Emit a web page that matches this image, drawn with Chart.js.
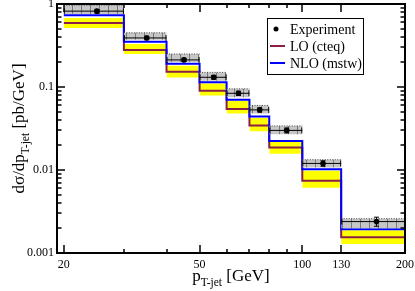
<!DOCTYPE html>
<html>
<head>
<meta charset="utf-8">
<script src="https://cdn.jsdelivr.net/npm/chart.js@4/dist/chart.umd.min.js"></script>
<style>
  html, body { margin:0; padding:0; background:#fff; }
  #wrap { width:415px; height:291px; }
</style>
</head>
<body>
<div id="wrap"><canvas id="c" width="415" height="291"></canvas></div>
<script>
// bin edges in p_T-jet [GeV]
const binEdges = [20, 30, 40, 50, 60, 70, 80, 100, 130, 200];
// experiment, central values + stat / syst bands [pb/GeV]
const expVal  = [0.82, 0.39, 0.212, 0.131, 0.084, 0.053, 0.030, 0.0120, 0.00239];
const statHi  = [0.86, 0.41, 0.222, 0.138, 0.089, 0.056, 0.032, 0.0129, 0.0027];
const statLo  = [0.78, 0.37, 0.202, 0.124, 0.079, 0.050, 0.028, 0.0111, 0.0021];
const sysHi   = [0.97, 0.45, 0.25, 0.150, 0.095, 0.060, 0.034, 0.0133, 0.00259];
const sysLo   = [0.76, 0.37, 0.20, 0.119, 0.075, 0.048, 0.027, 0.0107, 0.00199];
// theory
const nloVal  = [0.73, 0.35, 0.19, 0.114, 0.070, 0.044, 0.0223, 0.0102, 0.00193];
const loVal   = [0.59, 0.28, 0.153, 0.090, 0.0545, 0.0343, 0.0187, 0.0074, 0.00155];
const loHi    = [0.68, 0.33, 0.18, 0.110, 0.068, 0.0424, 0.0217, 0.0098, 0.00188];
const loLo    = [0.515, 0.25, 0.13, 0.079, 0.048, 0.0293, 0.0157, 0.0061, 0.00128];
// axis ticks
const xMajor = [20, 50, 100, 130, 200];
const xMinor = [30, 40, 60, 70, 80, 90];
const yMajor = [0.001, 0.01, 0.1, 1];
const yMinorMult = [2, 3, 4, 5, 6, 7, 8, 9];
const legendLabels = ['Experiment', 'LO (cteq)', 'NLO (mstw)'];

const FONT = '"Liberation Serif", "DejaVu Serif", serif';
Chart.defaults.font.family = FONT;
Chart.defaults.color = '#000';

// hatch pattern for the systematic boxes
function hatch() {
  const pc = document.createElement('canvas');
  pc.width = 9; pc.height = 9;
  const g = pc.getContext('2d');
  g.fillStyle = '#c6c6c6'; g.fillRect(0, 0, 9, 9);
  g.fillStyle = '#7a7a7a'; g.fillRect(0, 0, 1, 9);
  return g.createPattern(pc, 'repeat');
}
const greyPat = hatch();

const stepPts = vals => binEdges.map((e, i) => ({x: e, y: vals[Math.min(i, vals.length - 1)]}));

const datasets = [];
datasets.push({
  type: 'scatter', label: 'Experiment', order: 0,
  data: expVal.map((v, i) => ({x: (binEdges[i] + binEdges[i+1]) / 2, y: v})),
  pointRadius: 2.8, pointBackgroundColor: '#000', pointBorderColor: '#000', pointBorderWidth: 0
});
expVal.forEach((v, i) => {
  datasets.push({
    type: 'line', order: 1,
    data: [{x: binEdges[i], y: sysHi[i]}, {x: binEdges[i+1], y: sysHi[i]}],
    fill: {value: sysLo[i]}, backgroundColor: greyPat,
    borderColor: '#444', borderWidth: 1, borderDash: [1, 1.5], pointRadius: 0
  });
});
datasets.push({
  type: 'line', label: 'NLO (mstw)', order: 2, data: stepPts(nloVal), stepped: 'before',
  borderColor: '#0000ff', borderWidth: 2, pointRadius: 0, fill: false
});
datasets.push({
  type: 'line', label: 'LO (cteq)', order: 3, data: stepPts(loVal), stepped: 'before',
  borderColor: '#8b1f48', borderWidth: 2, pointRadius: 0, fill: false
});
loVal.forEach((v, i) => {
  datasets.push({
    type: 'line', order: 4,
    data: [{x: binEdges[i], y: loHi[i]}, {x: binEdges[i+1], y: loHi[i]}],
    fill: {value: loLo[i]}, backgroundColor: '#ffff00', borderWidth: 0, pointRadius: 0
  });
});

const decor = {
  id: 'decor',
  afterDatasetsDraw(chart) {
    const ctx = chart.ctx, xs = chart.scales.x, ys = chart.scales.y;
    ctx.save();
    // error bars of the data points
    ctx.strokeStyle = '#000'; ctx.lineWidth = 1;
    expVal.forEach((v, i) => {
      const x0 = xs.getPixelForValue(binEdges[i]), x1 = xs.getPixelForValue(binEdges[i+1]);
      const xc = xs.getPixelForValue((binEdges[i] + binEdges[i+1]) / 2);
      const y = ys.getPixelForValue(v);
      const yh = ys.getPixelForValue(statHi[i]), yl = ys.getPixelForValue(statLo[i]);
      ctx.beginPath();
      ctx.moveTo(x0, y); ctx.lineTo(x1, y);
      ctx.moveTo(x0 + 0.5, y - 3); ctx.lineTo(x0 + 0.5, y + 3);
      ctx.moveTo(x1 - 0.5, y - 3); ctx.lineTo(x1 - 0.5, y + 3);
      ctx.moveTo(xc, yh); ctx.lineTo(xc, yl);
      ctx.moveTo(xc - 2.5, yh); ctx.lineTo(xc + 2.5, yh);
      ctx.moveTo(xc - 2.5, yl); ctx.lineTo(xc + 2.5, yl);
      ctx.stroke();
    });
    ctx.restore();
  },
  afterDraw(chart) {
    const ctx = chart.ctx, a = chart.chartArea, xs = chart.scales.x, ys = chart.scales.y;
    ctx.save();
    // inward ticks on all four sides
    ctx.strokeStyle = '#000'; ctx.lineWidth = 1.5;
    ctx.beginPath();
    const xt = (v, len) => {
      const p = Math.round(xs.getPixelForValue(v));
      ctx.moveTo(p, a.bottom); ctx.lineTo(p, a.bottom - len);
      ctx.moveTo(p, a.top); ctx.lineTo(p, a.top + len);
    };
    const yt = (v, len) => {
      const p = Math.round(ys.getPixelForValue(v));
      ctx.moveTo(a.left, p); ctx.lineTo(a.left + len, p);
      ctx.moveTo(a.right, p); ctx.lineTo(a.right - len, p);
    };
    xMajor.forEach(v => xt(v, 8));
    xMinor.forEach(v => xt(v, 4));
    yMajor.forEach(v => yt(v, 8));
    yMajor.slice(0, -1).forEach(d => yMinorMult.forEach(m => yt(d * m, 4.5)));
    ctx.stroke();
    // frame
    ctx.lineWidth = 2;
    ctx.strokeRect(a.left, a.top, a.right - a.left, a.bottom - a.top);

    // legend
    const lx = 267, ly = 18, lw = 96, lh = 56;
    ctx.fillStyle = '#fff'; ctx.fillRect(lx, ly, lw, lh);
    ctx.lineWidth = 1; ctx.strokeStyle = '#000';
    ctx.strokeRect(lx + 0.5, ly + 0.5, lw, lh);
    ctx.font = '14px ' + FONT; ctx.textBaseline = 'middle'; ctx.textAlign = 'left';
    const rows = [29, 46, 63];
    ctx.fillStyle = '#000';
    ctx.beginPath(); ctx.arc(276, rows[0], 2.5, 0, Math.PI * 2); ctx.fill();
    ctx.lineWidth = 2;
    ctx.strokeStyle = '#8b1f48'; ctx.beginPath(); ctx.moveTo(270, rows[1]); ctx.lineTo(285, rows[1]); ctx.stroke();
    ctx.strokeStyle = '#0000ff'; ctx.beginPath(); ctx.moveTo(270, rows[2]); ctx.lineTo(285, rows[2]); ctx.stroke();
    legendLabels.forEach((t, i) => ctx.fillText(t, 290, rows[i] + 1));

    // axis titles with subscripts
    const title = (parts) => {
      let w = 0;
      parts.forEach(p => { ctx.font = p[1] + 'px ' + FONT; w += ctx.measureText(p[0]).width; });
      let x = -w / 2;
      parts.forEach(p => { ctx.font = p[1] + 'px ' + FONT; ctx.fillText(p[0], x, p[2]); x += ctx.measureText(p[0]).width; });
    };
    ctx.fillStyle = '#000'; ctx.textBaseline = 'alphabetic'; ctx.textAlign = 'left';
    ctx.save();
    ctx.translate((a.left + a.right) / 2, 281);
    title([['p', 17, 0], ['T-jet', 11.5, 5], [' [GeV]', 17, 0]]);
    ctx.restore();
    ctx.save();
    ctx.translate(24, (a.top + a.bottom) / 2);
    ctx.rotate(-Math.PI / 2);
    title([['d\u03c3/dp', 17, 0], ['T-jet', 11.5, 5], [' [pb/GeV]', 17, 0]]);
    ctx.restore();
    ctx.restore();
  }
};

new Chart(document.getElementById('c'), {
  type: 'line',
  data: {datasets},
  options: {
    responsive: false, animation: false, devicePixelRatio: 1,
    layout: {padding: {left: 0, right: 10, top: 3, bottom: 0}},
    plugins: {legend: {display: false}, tooltip: {enabled: false}},
    scales: {
      x: {
        type: 'logarithmic', min: 19.1, max: 200,
        grid: {display: false, drawTicks: false}, border: {display: false},
        afterBuildTicks: s => { s.ticks = xMajor.map(v => ({value: v})); },
        afterFit: s => { s.height = 38; s.paddingLeft = 0; s.paddingRight = 0; },
        ticks: {padding: 5, font: {size: 12}, color: '#000', maxRotation: 0, autoSkip: false, callback: v => String(v)}
      },
      y: {
        type: 'logarithmic', min: 0.001, max: 1,
        grid: {display: false, drawTicks: false}, border: {display: false},
        afterBuildTicks: s => { s.ticks = yMajor.map(v => ({value: v})); },
        afterFit: s => { s.width = 57; s.paddingTop = 0; s.paddingBottom = 0; },
        ticks: {padding: 3, font: {size: 12}, color: '#000', autoSkip: false, callback: v => String(v)}
      }
    }
  },
  plugins: [decor]
});
</script>
</body>
</html>
